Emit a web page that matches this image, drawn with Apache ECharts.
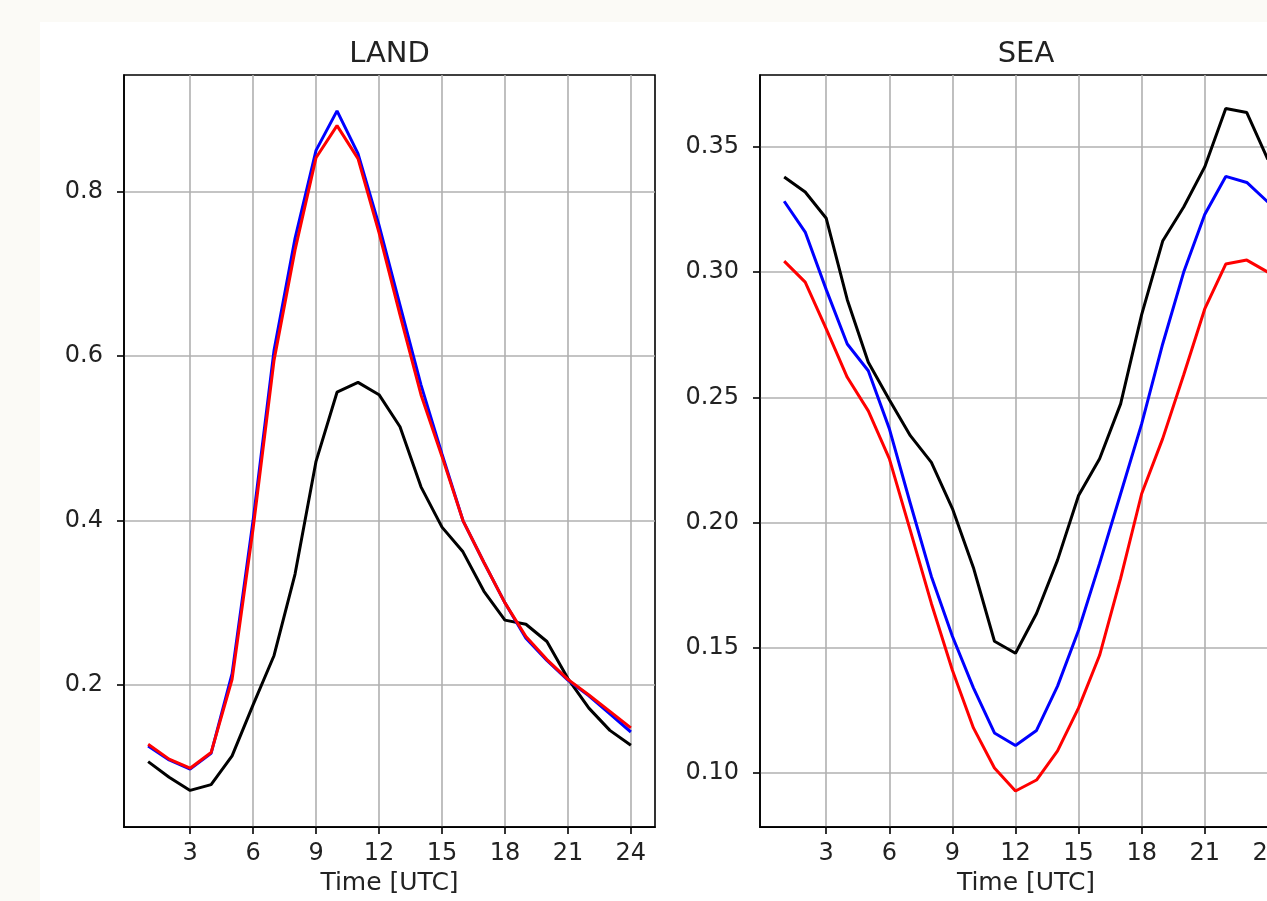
<!DOCTYPE html>
<html>
<head>
<meta charset="utf-8">
<script src="https://cdn.jsdelivr.net/npm/echarts@6/dist/echarts.min.js"></script>
<style>
  html, body { margin: 0; padding: 0; background: #fbfaf6; overflow: hidden; width: 1267px; height: 901px; }
  #chart { width: 1310px; height: 901px; }
</style>
</head>
<body>
<div id="chart"></div>
<script>
// ---- data ----
const hours = [1,2,3,4,5,6,7,8,9,10,11,12,13,14,15,16,17,18,19,20,21,22,23,24];
const xTicks = [3,6,9,12,15,18,21,24];
const landTicks = [0.2,0.4,0.6,0.8];
const seaTicks = [0.10,0.15,0.20,0.25,0.30,0.35];

const landBlack = [0.107,0.088,0.072,0.079,0.114,0.176,0.236,0.335,0.472,0.556,0.568,0.553,0.514,0.441,0.392,0.362,0.314,0.279,0.274,0.253,0.208,0.172,0.145,0.127];
const landBlue  = [0.126,0.109,0.098,0.117,0.214,0.400,0.607,0.743,0.850,0.898,0.846,0.759,0.662,0.565,0.481,0.400,0.349,0.300,0.257,0.230,0.206,0.187,0.165,0.143];
const landRed   = [0.128,0.110,0.099,0.118,0.207,0.390,0.595,0.729,0.841,0.880,0.840,0.750,0.650,0.553,0.478,0.400,0.349,0.300,0.259,0.231,0.207,0.188,0.168,0.148];

const seaBlack = [0.338,0.332,0.3215,0.289,0.264,0.249,0.2347,0.224,0.2056,0.182,0.1526,0.1478,0.1637,0.185,0.2108,0.2255,0.2474,0.283,0.3124,0.326,0.342,0.3653,0.3637,0.345];
const seaBlue  = [0.3283,0.316,0.293,0.2713,0.2606,0.2375,0.2076,0.1785,0.1546,0.134,0.116,0.111,0.117,0.1347,0.157,0.1837,0.2115,0.2394,0.2713,0.300,0.323,0.3382,0.3358,0.328];
const seaRed   = [0.3044,0.296,0.2773,0.258,0.2446,0.2255,0.1968,0.1677,0.141,0.118,0.102,0.0928,0.0972,0.1088,0.126,0.147,0.1777,0.2115,0.2335,0.259,0.2853,0.3032,0.3048,0.300];

const panels = ['LAND', 'SEA'];
const xName = 'Time [UTC]';

// ---- chart ----
const FONT = 'DejaVu Sans';
const pair = (ys) => hours.map((h, i) => [h, ys[i]]);

const gridBase = { top: 75, height: 753, width: 531, show: true, borderColor: '#000', borderWidth: 1.6, backgroundColor: '#fff' };

function xAxisFor(gi) {
  return {
    type: 'value', gridIndex: gi, min: -0.15, max: 25.15,
    name: xName, nameLocation: 'middle', nameGap: 43,
    nameTextStyle: { fontFamily: FONT, fontSize: 25, color: '#222' },
    axisLine: { show: true, onZero: false, lineStyle: { color: '#000', width: 1.6 } },
    axisTick: { show: true, inside: false, length: 7, lineStyle: { color: '#000', width: 1.6 }, customValues: xTicks },
    axisLabel: { customValues: xTicks, margin: 15, fontFamily: FONT, fontSize: 24, color: '#222' },
    splitLine: { show: true, lineStyle: { color: '#b0b0b0', width: 1.6 } }
  };
}
function yAxisFor(gi, min, max, ticks, dec) {
  return {
    type: 'value', gridIndex: gi, min: min, max: max,
    axisLine: { show: true, onZero: false, lineStyle: { color: '#000', width: 1.6 } },
    axisTick: { show: true, inside: false, length: 7, lineStyle: { color: '#000', width: 1.6 }, customValues: ticks },
    axisLabel: { customValues: ticks, margin: 21, fontFamily: FONT, fontSize: 24, color: '#222',
      formatter: (v) => Number(v).toFixed(dec) },
    splitLine: { show: true, lineStyle: { color: '#b0b0b0', width: 1.6 } }
  };
}
function line(gi, ys, color) {
  return {
    type: 'line', xAxisIndex: gi, yAxisIndex: gi, data: pair(ys),
    showSymbol: false, symbol: 'none', animation: false, clip: true,
    lineStyle: { color: color, width: 3 }, itemStyle: { color: color }
  };
}

const chart = echarts.init(document.getElementById('chart'), null, { renderer: 'canvas' });
chart.setOption({
  backgroundColor: '#fbfaf6',
  animation: false,
  graphic: [
    { type: 'rect', left: 40, top: 22, shape: { width: 1270, height: 879 }, style: { fill: '#ffffff' }, z: -10, silent: true },
    { type: 'text', x: 389.5, y: 54, style: { text: panels[0], fontFamily: FONT, fontSize: 29, fill: '#222', textAlign: 'center', textVerticalAlign: 'middle' } },
    { type: 'text', x: 1026, y: 54, style: { text: panels[1], fontFamily: FONT, fontSize: 29, fill: '#222', textAlign: 'center', textVerticalAlign: 'middle' } }
  ],
  grid: [
    Object.assign({}, gridBase, { left: 124 }),
    Object.assign({}, gridBase, { left: 760, width: 532 })
  ],
  xAxis: [xAxisFor(0), xAxisFor(1)],
  yAxis: [
    yAxisFor(0, 0.0274, 0.9416, landTicks, 1),
    yAxisFor(1, 0.0784, 0.3787, seaTicks, 2)
  ],
  series: [
    line(0, landBlack, '#000000'),
    line(0, landBlue, '#0000ff'),
    line(0, landRed, '#ff0000'),
    line(1, seaBlack, '#000000'),
    line(1, seaBlue, '#0000ff'),
    line(1, seaRed, '#ff0000')
  ]
});
</script>
</body>
</html>
